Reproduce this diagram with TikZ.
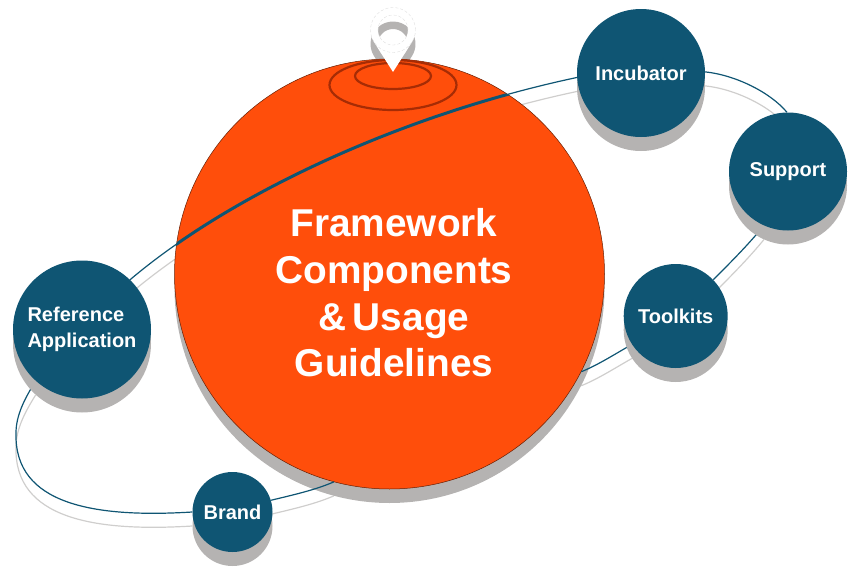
\documentclass[tikz,border=0pt]{standalone}
\usepackage{fontspec}
\setmainfont{Liberation Sans}
\usetikzlibrary{shadows}
\definecolor{navy}{HTML}{0F5573}
\definecolor{tangerine}{HTML}{FF4E0B}
\definecolor{shadegray}{HTML}{B5B3B2}
\definecolor{linegray}{HTML}{CFCECD}
\definecolor{ringred}{HTML}{A62C05}
\pgfdeclarelayer{grayback}
\pgfdeclarelayer{under}
\pgfdeclarelayer{mid}
\pgfsetlayers{grayback,under,mid,main}
\tikzset{
  softshadow/.style={drop shadow={shadow xshift=0pt,shadow yshift=-14pt,fill=shadegray,opacity=1}},
  topic/.style={circle,fill=navy,text=white,inner sep=0pt,softshadow,font=\bfseries\fontsize{20}{26}\selectfont,align=left},
  hub/.style={circle,fill=tangerine,draw=black!60!tangerine,line width=0.5pt,inner sep=0pt,minimum size=430pt,softshadow},
  hubtitle/.style={text=white,inner sep=0pt,font=\bfseries\fontsize{38.8}{46.7}\selectfont,align=center},
  orbitline/.style={draw=navy,line width=1.2pt},
  orbitshadow/.style={draw=linegray,line width=1.2pt},
  ring/.style={draw=ringred,line width=2.2pt},
  pinlook/.style={even odd rule}
}
\newcommand\orbitsegs[1]{
  ([yshift=#1]inc.1) .. controls ([yshift=#1]735,75) and ([yshift=#1]770,92) .. ([yshift=#1]sup.91)
  ([yshift=#1]sup.246) .. controls ([yshift=#1]748,245) and ([yshift=#1]730,263) .. ([yshift=#1]tool.44)
  ([yshift=#1]tool.213) .. controls ([yshift=#1]615,354) and ([yshift=#1]598,365) .. ([yshift=#1]big.-27.7)
  ([yshift=#1]big.255.4) .. controls ([yshift=#1]315,490) and ([yshift=#1]293,495) .. ([yshift=#1]brand.17)
  ([yshift=#1]brand.180) .. controls ([yshift=#1]95,518) and ([yshift=#1]14,505) .. ([yshift=#1]16,433)
    .. controls ([yshift=#1]16,415) and ([yshift=#1]25,398) .. ([yshift=#1]ref.228)
  ([yshift=#1]ref.46) .. controls ([yshift=#1]230,195) and ([yshift=#1]400,115) .. ([yshift=#1]inc.184.5)
}
\newcommand\pinpath[1]{
  (393,72+#1) -- (374,42.06+#1) arc[start angle=212.4,end angle=-32.4,radius=22.5pt] -- cycle
  (393,30+#1) circle[radius=15pt]
}
\begin{document}
\begin{tikzpicture}[x=1pt,y=-1pt]
\useasboundingbox (0,0) rectangle (855,573);
\begin{pgfonlayer}{under}
  \node[hub] (big) at (389.5,274) {};
\end{pgfonlayer}
\node[hubtitle] (title) at (394,293) {Framework\\Components\\\&\,Usage\\Guidelines};
\node[topic,minimum size=128pt] (inc) at (641,73) {Incubator};
\node[topic,minimum size=118pt] (sup) at (788,171.5) {Support};
\node[topic,minimum size=104pt] (tool) at (675.7,316) {Toolkits};
\node[topic,minimum size=138pt] (ref) at (82,329.5) {Reference\\Application};
\node[topic,minimum size=80pt] (brand) at (232.5,512) {Brand};
\begin{pgfonlayer}{grayback}
  \draw[orbitshadow] \orbitsegs{-14pt};
  \fill[shadegray,pinlook] \pinpath{14};
\end{pgfonlayer}
\begin{pgfonlayer}{mid}
  \draw[ring] (393,85) ellipse[x radius=63.5pt,y radius=25pt];
  \draw[ring] (393,76) ellipse[x radius=38pt,y radius=13pt];
  \draw[orbitline] \orbitsegs{0pt};
  \begin{scope}
    \clip (big.center) circle[radius=215pt];
    \draw[orbitline,line width=3pt] (ref.46) .. controls (230,195) and (400,115) .. (inc.184.5);
  \end{scope}
\end{pgfonlayer}
\fill[white,pinlook] \pinpath{0};
\draw[black!15,line width=0.3pt,densely dashed] (393,30) circle[radius=22.5pt] (393,30) circle[radius=15pt];
\end{tikzpicture}
\end{document}
